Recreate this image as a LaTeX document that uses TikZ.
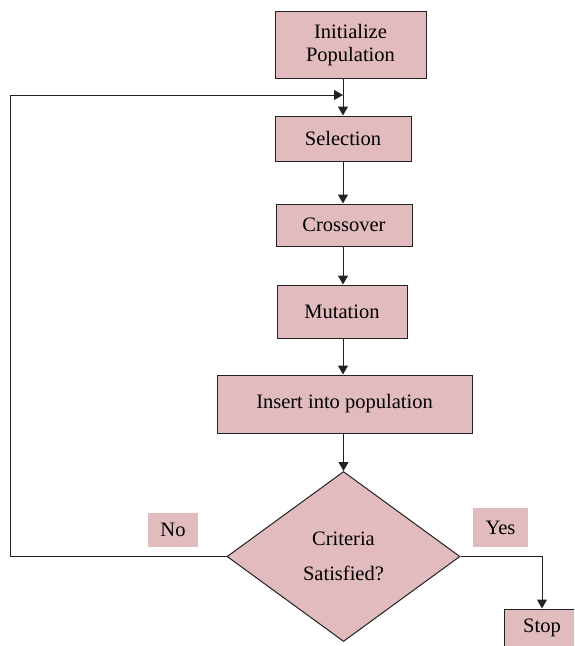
\documentclass[tikz,border=0pt]{standalone}
\usepackage{fontspec}
\setmainfont{Liberation Serif}
\newfontfamily\tnr{Liberation Serif}
\usepackage{tikz}
\usetikzlibrary{positioning,arrows.meta,shapes.geometric}
\definecolor{ink}{HTML}{222222}
\definecolor{rose}{HTML}{E2BBBE}
\tikzset{
  proc/.style={draw=ink, fill=rose, line width=1pt, inner sep=2pt,
               font=\tnr\fontsize{20.5}{23}\selectfont, align=center},
  decide/.style={proc, diamond, aspect=1.37, minimum width=233pt, minimum height=170pt},
  tag/.style={fill=rose, inner sep=0pt, font=\tnr\fontsize{20.5}{23}\selectfont},
  ar/.style={-{Triangle[length=9pt,width=10pt]}, line width=1pt, color=ink},
}
\begin{document}
\begin{tikzpicture}[x=1pt,y=-1pt]
\clip (0,0) rectangle (574,646);
\useasboundingbox (0,0) rectangle (574,646);
\fill[white] (0,0) rectangle (574,646);

% --- the loop body ---
\node[proc, minimum width=151pt, minimum height=67pt] (init) at (350.5,45) {Initialize\\Population};
\node[proc, minimum width=136pt, minimum height=45pt] (sel)   [below=36.5pt of init, xshift=-7.5pt] {Selection};
\node[proc, minimum width=136pt, minimum height=42pt] (cross) [below=42pt of sel, xshift=1pt]     {Crossover};
\node[proc, minimum width=130pt, minimum height=53pt] (mut)   [below=38pt of cross, xshift=-2pt]  {Mutation};
\node[proc, minimum width=255pt, minimum height=58pt] (ins)   [below=36pt of mut, xshift=2.5pt]   {Insert into population};

% --- the test ---
\node[decide] (crit) [below=37.5pt of ins, xshift=-1pt] {Criteria\\[12pt]Satisfied?};
\node[proc, minimum width=76pt, minimum height=38pt] (stop) at (542,628) {Stop};
\node[tag, minimum width=50pt, minimum height=34pt] (no)  at (173,530) {No};
\node[tag, minimum width=55pt, minimum height=39pt] (yes) at (500.5,527.5) {Yes};

\draw[ar] (init.south -| sel.north) -- (sel.north);
\draw[ar] (sel.south) -- (sel.south |- cross.north);
\draw[ar] (cross.south -| sel.north) -- (sel.north |- mut.north);
\draw[ar] (mut.south -| sel.north) -- (sel.north |- ins.north);
\draw[ar] (crit.north |- ins.south) -- (crit.north);

% back to selection
\coordinate (back) at (10,95);
\draw[ar] (crit.west) -| (back) -- (back -| sel.north);
\draw[ar] (crit.east) -| (stop.north);
\end{tikzpicture}
\end{document}
